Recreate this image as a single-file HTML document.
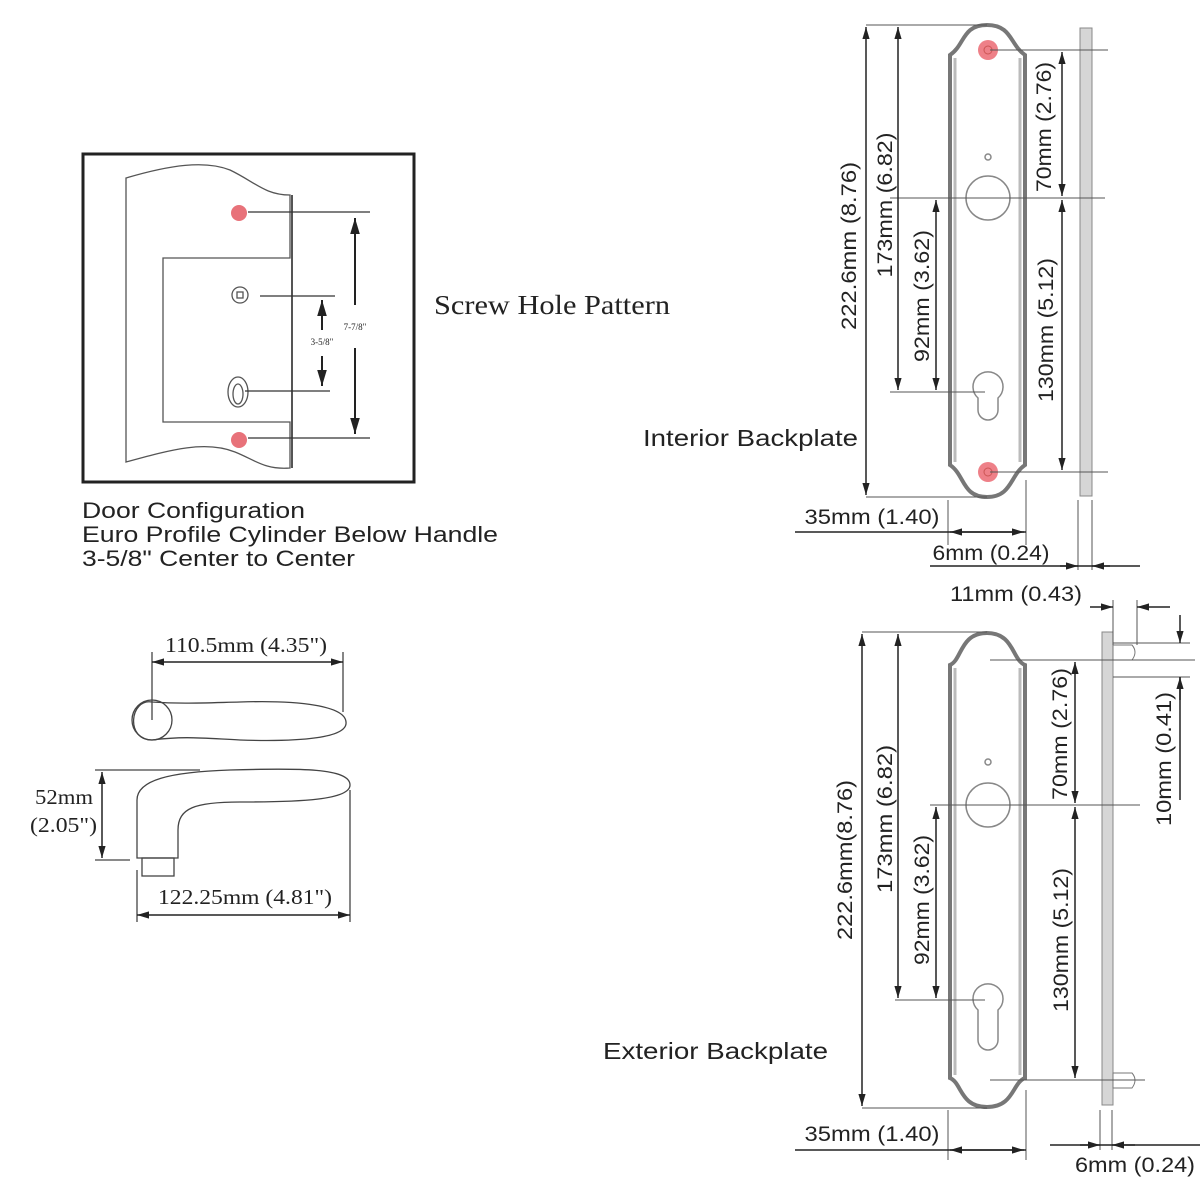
<!DOCTYPE html>
<html><head><meta charset="utf-8"><style>
html,body{margin:0;padding:0;background:#fff;}
svg{display:block;}
.s{font-family:"Liberation Sans",sans-serif;fill:#222;}
.r{font-family:"Liberation Serif",serif;fill:#222;}
</style></head><body>
<svg width="1200" height="1200" viewBox="0 0 1200 1200" xmlns="http://www.w3.org/2000/svg">
<defs>
<marker id="a" viewBox="0 0 10 10" refX="10" refY="5" markerWidth="8" markerHeight="8" orient="auto-start-reverse"><path d="M0,2 L10,5 L0,8 z" fill="#222"/></marker>
</defs>
<rect width="1200" height="1200" fill="#fff"/>

<!-- Screw hole box -->
<rect x="83" y="154" width="331" height="328" fill="none" stroke="#222" stroke-width="3"/>
<g fill="none" stroke="#555" stroke-width="1.3">
<path d="M126,178 C170,165 205,160 230,170 C255,182 265,195 290,195 L290,258 L163,258 L163,422 L290,422 L290,468 C265,470 255,460 235,452 C205,440 170,450 126,462 Z" fill="#fff"/>
<line x1="292" y1="195" x2="292" y2="468" stroke-width="2"/>
<circle cx="240" cy="295" r="8"/><rect x="237" y="292" width="6" height="6"/>
<ellipse cx="238" cy="392" rx="10" ry="15"/><ellipse cx="238" cy="394" rx="5" ry="10"/>
<line x1="248" y1="212" x2="370" y2="212" stroke="#333"/>
<line x1="260" y1="296" x2="335" y2="296" stroke="#333"/>
<line x1="245" y1="391" x2="330" y2="391" stroke="#333"/>
<line x1="248" y1="438" x2="370" y2="438" stroke="#333"/>
</g>
<circle cx="239" cy="213" r="8" fill="#e8727a"/><circle cx="239" cy="440" r="8" fill="#e8727a"/>
<g stroke="#222" stroke-width="2" fill="none">
<line x1="355" y1="218" x2="355" y2="305" marker-start="url(#a)"/>
<line x1="355" y1="348" x2="355" y2="434" marker-end="url(#a)"/>
<line x1="322" y1="300" x2="322" y2="330" marker-start="url(#a)"/>
<line x1="322" y1="356" x2="322" y2="386" marker-end="url(#a)"/>
</g>
<text class="r" x="355" y="330" font-size="9" text-anchor="middle">7-7/8"</text>
<text class="r" x="322" y="345" font-size="9" text-anchor="middle">3-5/8"</text>
<text class="r" x="434" y="314" font-size="27" textLength="236" lengthAdjust="spacingAndGlyphs">Screw Hole Pattern</text>
<text class="s" x="82" y="518" font-size="22" textLength="223" lengthAdjust="spacingAndGlyphs">Door Configuration</text>
<text class="s" x="82" y="542" font-size="22" textLength="416" lengthAdjust="spacingAndGlyphs">Euro Profile Cylinder Below Handle</text>
<text class="s" x="82" y="566" font-size="22" textLength="273" lengthAdjust="spacingAndGlyphs">3-5/8" Center to Center</text>

<!-- Handles -->
<g fill="none" stroke="#444" stroke-width="1.3">
<path d="M152,702 C130,698 125,740 152,740 C185,736 200,738 240,740 C300,742 348,738 346,722 C345,706 300,700 240,702 C200,703 180,704 152,702 Z"/>
<circle cx="152" cy="720" r="20"/>
<line x1="152" y1="652" x2="152" y2="720"/><line x1="343" y1="652" x2="343" y2="712"/>
<path d="M137,858 L137,800 C137,780 170,772 230,770 C300,768 350,768 350,785 C350,800 300,802 240,802 C195,802 178,808 178,830 L178,858 Z"/>
<rect x="142" y="858" width="32" height="18"/>
<line x1="95" y1="770" x2="200" y2="770"/><line x1="95" y1="860" x2="130" y2="860"/>
<line x1="137" y1="870" x2="137" y2="922"/><line x1="350" y1="790" x2="350" y2="922"/>
</g>
<g stroke="#222" stroke-width="1.5" fill="none">
<line x1="152" y1="662" x2="343" y2="662" marker-start="url(#a)" marker-end="url(#a)"/>
<line x1="102" y1="772" x2="102" y2="858" marker-start="url(#a)" marker-end="url(#a)"/>
<line x1="137" y1="915" x2="350" y2="915" marker-start="url(#a)" marker-end="url(#a)"/>
</g>
<text class="r" x="165" y="652" font-size="21" textLength="162" lengthAdjust="spacingAndGlyphs">110.5mm (4.35")</text>
<text class="r" x="35" y="804" font-size="21" textLength="58" lengthAdjust="spacingAndGlyphs">52mm</text>
<text class="r" x="30" y="832" font-size="21" textLength="67" lengthAdjust="spacingAndGlyphs">(2.05")</text>
<text class="r" x="158" y="904" font-size="21" textLength="174" lengthAdjust="spacingAndGlyphs">122.25mm (4.81")</text>

<!-- Interior plate -->
<g fill="none" stroke="#888" stroke-width="1.5">
<path d="M950,55 C965,45 962,25 987,25 C1012,25 1010,45 1025,55 L1025,465 C1010,475 1012,497 987,497 C962,497 965,475 950,465 Z" stroke="#777" stroke-width="4"/>
<path d="M955,58 L955,462 M1020,58 L1020,462" stroke="#bbb" stroke-width="3"/>
<circle cx="988" cy="157" r="3"/>
<circle cx="988" cy="198" r="22"/>
<path d="M978,398 A15,15 0 1 1 998,398 L998,410 A10,10 0 0 1 978,410 Z"/>
</g>
<circle cx="988" cy="50" r="10" fill="#ee8088"/><circle cx="988" cy="472" r="10" fill="#ee8088"/>
<circle cx="988" cy="50" r="4" fill="none" stroke="#c55"/><circle cx="988" cy="472" r="4" fill="none" stroke="#c55"/>
<rect x="1080" y="28" width="12" height="468" fill="#d6d6d6" stroke="#888"/>
<g stroke="#555" stroke-width="1" fill="none">
<line x1="866" y1="25" x2="987" y2="25"/><line x1="866" y1="497" x2="987" y2="497"/>
<line x1="990" y1="50" x2="1108" y2="50"/><line x1="890" y1="198" x2="1105" y2="198"/>
<line x1="990" y1="472" x2="1108" y2="472"/><line x1="890" y1="392" x2="985" y2="392"/>
<line x1="948" y1="500" x2="948" y2="545"/><line x1="1026" y1="480" x2="1026" y2="545"/>
<line x1="1078" y1="500" x2="1078" y2="570"/><line x1="1092" y1="500" x2="1092" y2="570"/>
</g>
<g stroke="#222" stroke-width="1.5" fill="none">
<line x1="866" y1="27" x2="866" y2="495" marker-start="url(#a)" marker-end="url(#a)"/>
<line x1="898" y1="27" x2="898" y2="390" marker-start="url(#a)" marker-end="url(#a)"/>
<line x1="936" y1="200" x2="936" y2="390" marker-start="url(#a)" marker-end="url(#a)"/>
<line x1="1062" y1="52" x2="1062" y2="196" marker-start="url(#a)" marker-end="url(#a)"/>
<line x1="1062" y1="200" x2="1062" y2="470" marker-start="url(#a)" marker-end="url(#a)"/>
<line x1="795" y1="532" x2="1026" y2="532"/>
<line x1="950" y1="532" x2="1024" y2="532" marker-start="url(#a)" marker-end="url(#a)"/>
<line x1="930" y1="566" x2="1140" y2="566"/>
<line x1="1060" y1="566" x2="1078" y2="566" marker-end="url(#a)"/>
<line x1="1110" y1="566" x2="1092" y2="566" marker-end="url(#a)"/>
</g>
<g class="s" font-size="21" text-anchor="middle" lengthAdjust="spacingAndGlyphs">
<text transform="translate(856,246) rotate(-90)" textLength="168" lengthAdjust="spacingAndGlyphs">222.6mm (8.76)</text>
<text transform="translate(892,205) rotate(-90)" textLength="145" lengthAdjust="spacingAndGlyphs">173mm (6.82)</text>
<text transform="translate(929,296) rotate(-90)" textLength="132" lengthAdjust="spacingAndGlyphs">92mm (3.62)</text>
<text transform="translate(1051,127) rotate(-90)" textLength="130" lengthAdjust="spacingAndGlyphs">70mm (2.76)</text>
<text transform="translate(1053,330) rotate(-90)" textLength="144" lengthAdjust="spacingAndGlyphs">130mm (5.12)</text>
<text x="872" y="524" textLength="135" lengthAdjust="spacingAndGlyphs">35mm (1.40)</text>
<text x="991" y="560" textLength="117" lengthAdjust="spacingAndGlyphs">6mm (0.24)</text>
<text x="1016" y="601" textLength="132" lengthAdjust="spacingAndGlyphs">11mm (0.43)</text>
</g>
<text class="s" x="643" y="446" font-size="23" textLength="215" lengthAdjust="spacingAndGlyphs">Interior Backplate</text>

<!-- Exterior plate -->
<g fill="none" stroke="#888" stroke-width="1.5">
<path d="M950,665 C962,660 960,633 987,633 C1014,633 1012,660 1025,665 L1025,1078 C1012,1083 1014,1107 987,1107 C960,1107 962,1083 950,1078 Z" stroke="#777" stroke-width="4"/>
<path d="M955,668 L955,1075 M1020,668 L1020,1075" stroke="#bbb" stroke-width="3"/>
<circle cx="988" cy="762" r="3"/>
<circle cx="988" cy="805" r="22"/>
<path d="M978,1010 A15,15 0 1 1 998,1010 L998,1040 A10,10 0 0 1 978,1040 Z"/>
</g>
<rect x="1102" y="632" width="11" height="473" fill="#d6d6d6" stroke="#888"/>
<g fill="#fff" stroke="#777"><path d="M1113,645 L1132,645 Q1138,652 1132,660 L1113,660 Z"/><path d="M1113,1073 L1132,1073 Q1138,1080 1132,1088 L1113,1088 Z"/></g>
<g stroke="#555" stroke-width="1" fill="none">
<line x1="862" y1="632" x2="987" y2="632"/><line x1="862" y1="1108" x2="987" y2="1108"/>
<line x1="990" y1="660" x2="1195" y2="660"/><line x1="930" y1="805" x2="1140" y2="805"/>
<line x1="990" y1="1080" x2="1145" y2="1080"/><line x1="895" y1="1000" x2="985" y2="1000"/>
<line x1="1113" y1="643" x2="1190" y2="643"/><line x1="1113" y1="677" x2="1190" y2="677"/>
<line x1="1113" y1="600" x2="1113" y2="645"/><line x1="1137" y1="600" x2="1137" y2="645"/>
<line x1="948" y1="1110" x2="948" y2="1160"/><line x1="1026" y1="1090" x2="1026" y2="1160"/>
<line x1="1100" y1="1110" x2="1100" y2="1150"/><line x1="1112" y1="1110" x2="1112" y2="1150"/>
</g>
<g stroke="#222" stroke-width="1.5" fill="none">
<line x1="862" y1="634" x2="862" y2="1106" marker-start="url(#a)" marker-end="url(#a)"/>
<line x1="898" y1="634" x2="898" y2="998" marker-start="url(#a)" marker-end="url(#a)"/>
<line x1="936" y1="807" x2="936" y2="998" marker-start="url(#a)" marker-end="url(#a)"/>
<line x1="1075" y1="662" x2="1075" y2="803" marker-start="url(#a)" marker-end="url(#a)"/>
<line x1="1075" y1="807" x2="1075" y2="1078" marker-start="url(#a)" marker-end="url(#a)"/>
<line x1="1180" y1="615" x2="1180" y2="643" marker-end="url(#a)"/>
<line x1="1180" y1="700" x2="1180" y2="677" marker-end="url(#a)"/>
<line x1="1180" y1="677" x2="1180" y2="800"/>
<line x1="1090" y1="607" x2="1113" y2="607" marker-end="url(#a)"/>
<line x1="1170" y1="607" x2="1137" y2="607" marker-end="url(#a)"/>
<line x1="795" y1="1150" x2="1026" y2="1150"/>
<line x1="950" y1="1150" x2="1024" y2="1150" marker-start="url(#a)" marker-end="url(#a)"/>
<line x1="1050" y1="1145" x2="1200" y2="1145"/>
<line x1="1080" y1="1145" x2="1100" y2="1145" marker-end="url(#a)"/>
<line x1="1135" y1="1145" x2="1112" y2="1145" marker-end="url(#a)"/>
</g>
<g class="s" font-size="21" text-anchor="middle">
<text transform="translate(852,860) rotate(-90)" textLength="160" lengthAdjust="spacingAndGlyphs">222.6mm(8.76)</text>
<text transform="translate(892,819) rotate(-90)" textLength="148" lengthAdjust="spacingAndGlyphs">173mm (6.82)</text>
<text transform="translate(929,900) rotate(-90)" textLength="130" lengthAdjust="spacingAndGlyphs">92mm (3.62)</text>
<text transform="translate(1067,734) rotate(-90)" textLength="132" lengthAdjust="spacingAndGlyphs">70mm (2.76)</text>
<text transform="translate(1068,940) rotate(-90)" textLength="144" lengthAdjust="spacingAndGlyphs">130mm (5.12)</text>
<text transform="translate(1171,759) rotate(-90)" textLength="134" lengthAdjust="spacingAndGlyphs">10mm (0.41)</text>
<text x="872" y="1141" textLength="135" lengthAdjust="spacingAndGlyphs">35mm (1.40)</text>
<text x="1135" y="1172" textLength="120" lengthAdjust="spacingAndGlyphs">6mm (0.24)</text>
</g>
<text class="s" x="603" y="1059" font-size="23" textLength="225" lengthAdjust="spacingAndGlyphs">Exterior Backplate</text>
</svg>
</body></html>
